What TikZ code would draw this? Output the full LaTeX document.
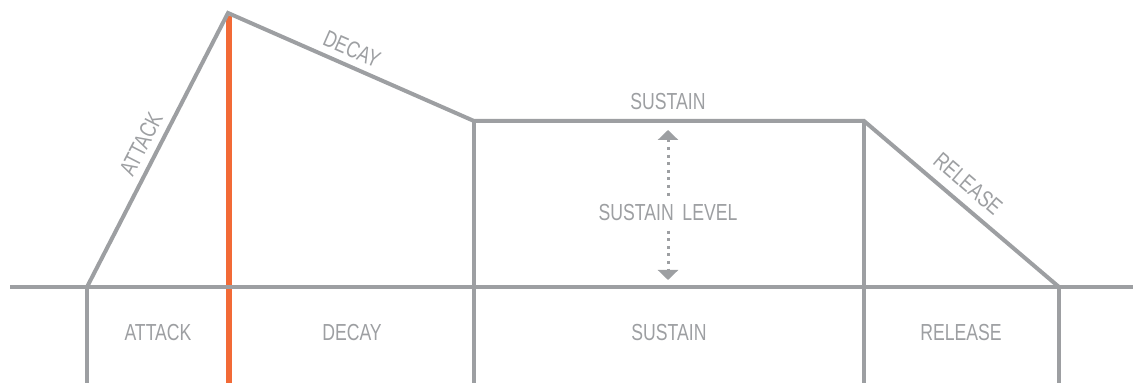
\documentclass[tikz,border=0pt]{standalone}
\usepackage{fontspec}
\setmainfont{Liberation Sans}[FakeStretch=0.76]
\usepackage{tikz}
\usetikzlibrary{arrows.meta}

\definecolor{envgray}{HTML}{9D9FA2}
\definecolor{envorange}{HTML}{F26A36}

\tikzset{
  env/.style={draw=envgray, line width=2pt},
  gate/.style={draw=envorange, line width=3pt},
  lbl/.style={text=envgray, font=\fontsize{11.6}{13}\selectfont, inner sep=1pt},
}

\begin{document}
\begin{tikzpicture}[x=0.5pt, y=-0.5pt]
			\useasboundingbox (0,0) rectangle (1133,383);
			\coordinate (left) at (10,287);
			\coordinate (right) at (1133,287);
			\coordinate (start) at (87,287);
			\coordinate (peak) at (228,13);
			\coordinate (sus) at (474,121);
			\coordinate (off) at (864,121);
			\coordinate (end) at (1059,287);
			\draw[gate] (229,16) -- (229,383);
			\draw[env] (left) -- (right);
			\draw[env] (start) -- (peak) -- (sus) -- (off) -- (end);
			\draw[env] (start) -- (87,383);
			\draw[env] (sus) -- (474,383);
			\draw[env] (off) -- (864,383);
			\draw[env] (end) -- (1059,383);
			\node[lbl, rotate=62.8] (attack) at (141,144) {ATTACK};
			\node[lbl, rotate=-23.7] (decay) at (352,49) {DECAY};
			\node[lbl] (sustain) at (668,102) {SUSTAIN};
			\node[lbl, rotate=-40.4] (release) at (968,184) {RELEASE};
			\coordinate (lvltop) at (668,130);
			\coordinate (lvlbot) at (668,280);
			\draw[envgray, line width=1.5pt, dash pattern=on 1.5pt off 2.3pt,
				{Triangle[width=10pt,length=5pt]}-{Triangle[width=10pt,length=5pt]}] (lvltop) -- (lvlbot);
			\node[lbl, fill=white, inner sep=3pt] (level) at (668,213) {SUSTAIN\ \,LEVEL};
			\node[lbl] (attackb) at (158,333) {ATTACK};
			\node[lbl] (decayb) at (352,333) {DECAY};
			\node[lbl] (sustainb) at (669,333) {SUSTAIN};
			\node[lbl] (releaseb) at (961,333) {RELEASE};
		\end{tikzpicture}
\end{document}
